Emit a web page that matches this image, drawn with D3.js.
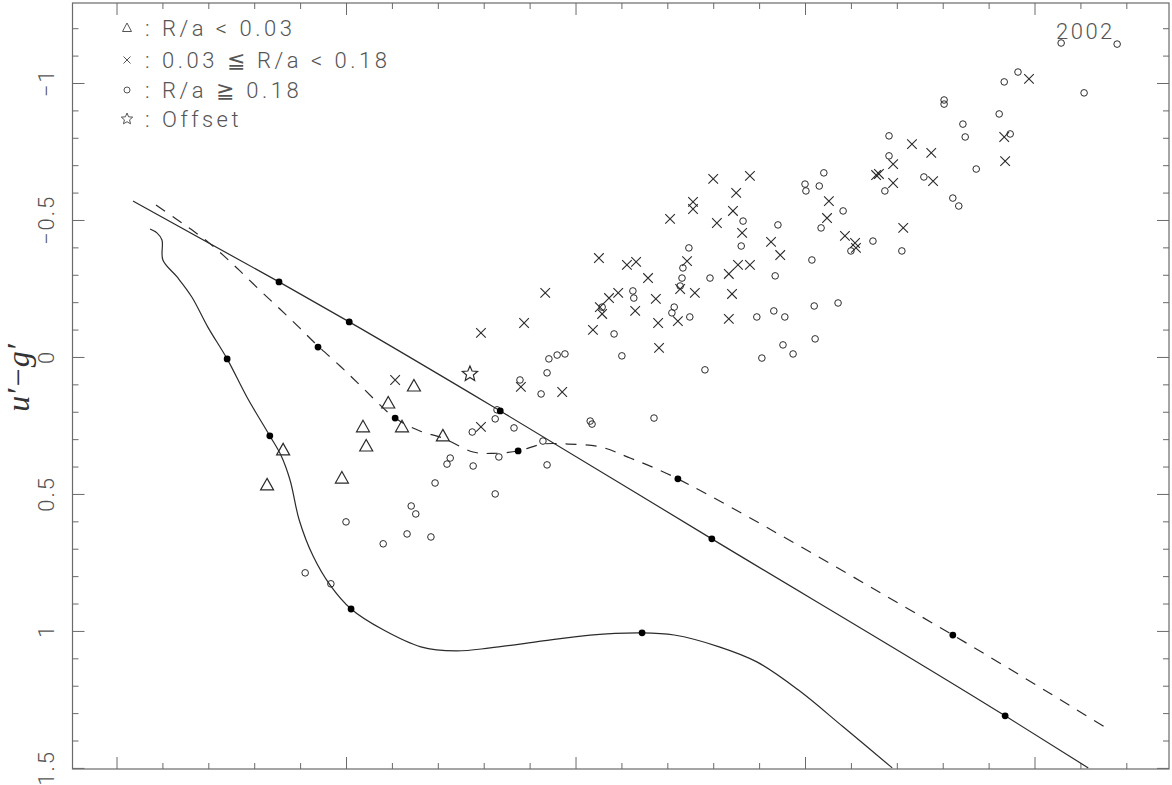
<!DOCTYPE html>
<html><head><meta charset="utf-8">
<script src="https://cdn.jsdelivr.net/npm/d3@7"></script>
<style>
html,body{margin:0;padding:0;background:#fff;}
svg{display:block;}
</style></head>
<body>
<svg id="chart" width="1172" height="785"></svg>
<script>
// ---------------- DATA ----------------
const yTickValues = [-1, -0.5, 0, 0.5, 1, 1.5];
const yTickLabels = ["\u22121", "\u22120.5", "0", "0.5", "1", "1.5"];
const xTickValues = [0, 0.5, 1, 1.5, 2];

// R/a < 0.03 (triangles)
const triX = [0.648, 0.592, 0.537, 0.622, 0.544, 0.491, 0.711, 0.328, 0.363];
const triY = [0.106, 0.168, 0.255, 0.255, 0.325, 0.442, 0.288, 0.467, 0.339];

// 0.03 <= R/a < 0.18 (crosses)
const crossX = [0.607, 0.794, 0.794, 0.888, 0.881, 0.971, 0.934, 1.051, 1.112, 1.132,
  1.158, 1.073, 1.093, 1.053, 1.058, 1.038, 1.130, 1.175, 1.180, 1.182,
  1.206, 1.256, 1.256, 1.300, 1.308, 1.243, 1.228, 1.260, 1.223, 1.334,
  1.354, 1.380, 1.341, 1.334, 1.350, 1.343, 1.380, 1.363, 1.426, 1.446,
  1.552, 1.548, 1.587, 1.609, 1.611, 1.714, 1.655, 1.661, 1.692, 1.692,
  1.733, 1.775, 1.779, 1.934, 1.936, 1.988];
const crossY = [0.084, -0.088, 0.255, -0.124, 0.109, 0.128, -0.234, -0.361, -0.336, -0.347,
  -0.288, -0.215, -0.234, -0.182, -0.157, -0.099, -0.168, -0.212, -0.124, -0.033,
  -0.504, -0.566, -0.540, -0.650, -0.489, -0.350, -0.248, -0.234, -0.131, -0.303,
  -0.336, -0.336, -0.230, -0.139, -0.599, -0.533, -0.661, -0.453, -0.420, -0.372,
  -0.569, -0.507, -0.442, -0.416, -0.398, -0.471, -0.664, -0.668, -0.704, -0.635,
  -0.777, -0.745, -0.642, -0.803, -0.715, -1.015];

// R/a >= 0.18 (circles)
const circX = [0.411, 0.467, 0.500, 0.581, 0.633, 0.642, 0.652, 0.685, 0.694, 0.720,
  0.727, 0.777, 0.775, 0.825, 0.833, 0.825, 0.866, 0.925, 0.938, 0.879,
  0.929, 0.938, 0.942, 0.960, 0.977, 0.829, 1.032, 1.036, 1.171, 1.282,
  1.084, 1.101, 1.125, 1.127, 1.058, 1.215, 1.210, 1.249, 1.247, 1.234,
  1.232, 1.228, 1.293, 1.365, 1.361, 1.441, 1.435, 1.395, 1.432, 1.456,
  1.452, 1.474, 1.406, 1.522, 1.520, 1.572, 1.515, 1.535, 1.583, 1.500,
  1.502, 1.531, 1.541, 1.600, 1.648, 1.711, 1.674, 1.683, 1.683, 1.759,
  1.822, 1.835, 1.873, 1.844, 1.849, 1.803, 1.803, 1.923, 1.947, 1.934,
  1.964, 2.108, 2.058, 2.180];
const circY = [0.788, 0.828, 0.602, 0.682, 0.646, 0.544, 0.573, 0.657, 0.460, 0.391,
  0.369, 0.398, 0.274, 0.500, 0.365, 0.226, 0.259, 0.135, 0.058, 0.084,
  0.307, 0.394, 0.007, -0.007, -0.011, 0.193, 0.234, 0.245, 0.223, 0.047,
  -0.084, -0.004, -0.241, -0.215, -0.182, -0.182, -0.161, -0.146, -0.398, -0.325,
  -0.288, -0.259, -0.288, -0.496, -0.405, -0.482, -0.296, -0.146, -0.168, -0.146,
  -0.044, -0.011, 0.004, -0.066, -0.186, -0.197, -0.354, -0.471, -0.533, -0.631,
  -0.606, -0.624, -0.672, -0.387, -0.423, -0.387, -0.606, -0.807, -0.734, -0.657,
  -0.580, -0.551, -0.686, -0.850, -0.803, -0.938, -0.923, -0.887, -0.814, -1.004,
  -1.040, -0.964, -1.146, -1.142];

// Offset (star)
const starX = [0.770];
const starY = [0.062];

// Model tracks
const straightX = [0.036, 0.354, 0.507, 0.836, 1.297, 1.936, 2.117];
const straightY = [-0.569, -0.274, -0.128, 0.197, 0.664, 1.310, 1.500];
const straightDotX = [0.354, 0.507, 0.836, 1.297, 1.936];
const straightDotY = [-0.274, -0.128, 0.197, 0.664, 1.310];

const dashedX = [0.086, 0.130, 0.164, 0.199, 0.234, 0.269, 0.312, 0.356, 0.399, 0.439,
  0.487, 0.530, 0.607, 0.661, 0.711, 0.777, 0.820, 0.875, 0.929, 0.984, 1.053, 1.119, 1.223, 1.822, 2.167];
const dashedY = [-0.555, -0.504, -0.464, -0.420, -0.369, -0.314, -0.244, -0.175, -0.106, -0.040,
  0.033, 0.102, 0.223, 0.270, 0.296, 0.347, 0.352, 0.343, 0.318, 0.318, 0.328, 0.369, 0.445, 1.015, 1.365];
const dashedDotX = [0.439, 0.607, 0.875, 1.223, 1.822];
const dashedDotY = [-0.036, 0.223, 0.343, 0.445, 1.015];

const curveX = [0.073, 0.088, 0.099, 0.101, 0.132, 0.164, 0.199, 0.241, 0.284, 0.334,
  0.358, 0.378, 0.398, 0.428, 0.465, 0.511, 0.581, 0.663, 0.740, 0.814,
  0.914, 1.032, 1.145, 1.215, 1.313, 1.395, 1.485, 1.583, 1.690];
const curveY = [-0.467, -0.453, -0.427, -0.354, -0.292, -0.219, -0.109, 0.007, 0.146, 0.288,
  0.358, 0.449, 0.595, 0.726, 0.832, 0.920, 0.996, 1.058, 1.073, 1.062,
  1.040, 1.015, 1.007, 1.015, 1.058, 1.113, 1.215, 1.350, 1.500];
const curveDotX = [0.241, 0.334, 0.511, 1.145];
const curveDotY = [0.007, 0.288, 0.920, 1.007];

const legendLabels = [": R/a < 0.03", ": 0.03 \u2266 R/a < 0.18", ": R/a \u2267 0.18", ": Offset"];
const yearLabel = "2002";
const yAxisTitle = "u\u2032\u2212g\u2032";

// ---------------- DRAW ----------------
const svg = d3.select("#chart");
const L = 72.5, R = 1169, T = 3, B = 769;
const x = d3.scaleLinear().domain([-0.0959, 2.293]).range([L, R]);
const y = d3.scaleLinear().domain([-1.292, 1.504]).range([T, B]);

const ink = "#2b2b2b";
const axisCol = "#6a6a6a";
const textCol = "#555";
const sans = "Roboto, 'DejaVu Sans', sans-serif";

svg.append("clipPath").attr("id","clip").append("rect")
  .attr("x", L).attr("y", T).attr("width", R-L).attr("height", B-T);

const yMinor = d3.range(-12, 16).map(i => i/10).filter(v => !yTickValues.some(m => Math.abs(m-v) < 1e-9));
const xMinor = d3.range(0, 23).map(i => i/10).filter(v => !xTickValues.some(m => Math.abs(m-v) < 1e-9));

function styleAxis(g){
  g.selectAll("path.domain").remove();
  g.selectAll("text").remove();
  g.selectAll("line").attr("stroke", axisCol).attr("stroke-width", 1);
}
svg.append("g").attr("transform", `translate(${L},0)`).call(d3.axisLeft(y).tickValues(yTickValues).tickSize(-12)).call(styleAxis);
svg.append("g").attr("transform", `translate(${L},0)`).call(d3.axisLeft(y).tickValues(yMinor).tickSize(-6)).call(styleAxis);
svg.append("g").attr("transform", `translate(${R},0)`).call(d3.axisRight(y).tickValues(yTickValues).tickSize(-12)).call(styleAxis);
svg.append("g").attr("transform", `translate(${R},0)`).call(d3.axisRight(y).tickValues(yMinor).tickSize(-6)).call(styleAxis);
svg.append("g").attr("transform", `translate(0,${B})`).call(d3.axisBottom(x).tickValues(xTickValues).tickSize(-12)).call(styleAxis);
svg.append("g").attr("transform", `translate(0,${B})`).call(d3.axisBottom(x).tickValues(xMinor).tickSize(-6)).call(styleAxis);
svg.append("g").attr("transform", `translate(0,${T})`).call(d3.axisTop(x).tickValues(xTickValues).tickSize(-12)).call(styleAxis);
svg.append("g").attr("transform", `translate(0,${T})`).call(d3.axisTop(x).tickValues(xMinor).tickSize(-6)).call(styleAxis);

svg.append("rect").attr("x", L).attr("y", T).attr("width", R-L).attr("height", B-T)
  .attr("fill","none").attr("stroke", axisCol).attr("stroke-width", 1.2);

yTickValues.forEach((v,i) => {
  svg.append("text")
    .attr("transform", `translate(54,${y(v)}) rotate(-90)`)
    .attr("text-anchor","middle")
    .style("font-family", sans).style("font-size", "22px").style("font-weight", 300)
    .style("letter-spacing", "2px")
    .attr("fill", textCol)
    .text(yTickLabels[i]);
});

svg.append("text")
  .attr("transform", `translate(29,378) rotate(-90)`)
  .attr("text-anchor","middle")
  .style("font-family", "'Liberation Serif','DejaVu Serif',serif")
  .style("font-style","italic")
  .style("font-size", "32px")
  .attr("fill", "#333")
  .text(yAxisTitle);

const plot = svg.append("g").attr("clip-path","url(#clip)");

const lineGen = (xs, ys, curve) => d3.line().x(d => x(d[0])).y(d => y(d[1])).curve(curve)(xs.map((v,i)=>[v, ys[i]]));
plot.append("path").attr("d", lineGen(straightX, straightY, d3.curveMonotoneX))
  .attr("fill","none").attr("stroke", ink).attr("stroke-width", 1.2);
plot.append("path").attr("d", lineGen(dashedX, dashedY, d3.curveCatmullRom.alpha(0.5)))
  .attr("fill","none").attr("stroke", ink).attr("stroke-width", 1.2).attr("stroke-dasharray","11,9");
plot.append("path").attr("d", lineGen(curveX, curveY, d3.curveCatmullRom.alpha(0.5)))
  .attr("fill","none").attr("stroke", ink).attr("stroke-width", 1.2);

plot.append("g").selectAll("circle").data(circX.map((v,i)=>[v,circY[i]])).join("circle")
  .attr("cx", d => x(d[0])).attr("cy", d => y(d[1])).attr("r", 3.3)
  .attr("fill","none").attr("stroke", ink).attr("stroke-width", 1);

const cs = 4.8;
plot.append("g").selectAll("path").data(crossX.map((v,i)=>[v,crossY[i]])).join("path")
  .attr("d", d => { const cx = x(d[0]), cy = y(d[1]);
    return `M${cx-cs},${cy-cs}L${cx+cs},${cy+cs}M${cx-cs},${cy+cs}L${cx+cs},${cy-cs}`; })
  .attr("fill","none").attr("stroke", ink).attr("stroke-width", 1.1);

plot.append("g").selectAll("path").data(triX.map((v,i)=>[v,triY[i]])).join("path")
  .attr("d", d => { const cx = x(d[0]), cy = y(d[1]);
    return `M${cx},${cy-6.5}L${cx+6.5},${cy+5}L${cx-6.5},${cy+5}Z`; })
  .attr("fill","none").attr("stroke", ink).attr("stroke-width", 1.2);

function starPath(cx, cy, ro, ri){
  let p = "";
  for (let k=0;k<10;k++){
    const r = k%2===0 ? ro : ri;
    const a = -Math.PI/2 + k*Math.PI/5;
    p += (k===0?"M":"L") + (cx + r*Math.cos(a)).toFixed(2) + "," + (cy + r*Math.sin(a)).toFixed(2);
  }
  return p + "Z";
}
plot.append("g").selectAll("path").data(starX.map((v,i)=>[v,starY[i]])).join("path")
  .attr("d", d => starPath(x(d[0]), y(d[1]), 8, 3.6))
  .attr("fill","none").attr("stroke", ink).attr("stroke-width", 1.2);

const dots = [].concat(
  straightDotX.map((v,i)=>[v, straightDotY[i]]),
  dashedDotX.map((v,i)=>[v, dashedDotY[i]]),
  curveDotX.map((v,i)=>[v, curveDotY[i]]));
plot.append("g").selectAll("circle").data(dots).join("circle")
  .attr("cx", d => x(d[0])).attr("cy", d => y(d[1])).attr("r", 3.4).attr("fill", "#000");

// legend
const legY = [28, 60, 90, 119];
const lg = svg.append("g");
const lx = 127;
lg.append("path").attr("d", `M${lx},${legY[0]-5}L${lx+4.5},${legY[0]+3.5}L${lx-4.5},${legY[0]+3.5}Z`)
  .attr("fill","none").attr("stroke",textCol).attr("stroke-width",1);
lg.append("path").attr("d", `M${lx-3.5},${legY[1]-3.5}L${lx+3.5},${legY[1]+3.5}M${lx-3.5},${legY[1]+3.5}L${lx+3.5},${legY[1]-3.5}`)
  .attr("fill","none").attr("stroke",textCol).attr("stroke-width",1);
lg.append("circle").attr("cx", lx).attr("cy", legY[2]).attr("r", 3)
  .attr("fill","none").attr("stroke",textCol).attr("stroke-width",1);
lg.append("path").attr("d", starPath(lx, legY[3], 6, 2.7))
  .attr("fill","none").attr("stroke",textCol).attr("stroke-width",1);
legendLabels.forEach((t,i) => {
  lg.append("text").attr("x", 145).attr("y", legY[i]+8)
    .style("font-family", sans).style("font-size", "22px").style("font-weight", 300)
    .style("letter-spacing", "3.5px").style("white-space","pre")
    .attr("fill", textCol)
    .text(t);
});

svg.append("text").attr("x", 1056).attr("y", 39)
  .style("font-family", sans).style("font-size", "22px").style("font-weight", 300)
  .style("letter-spacing", "2.5px")
  .attr("fill", textCol).text(yearLabel);
</script>
</body></html>
